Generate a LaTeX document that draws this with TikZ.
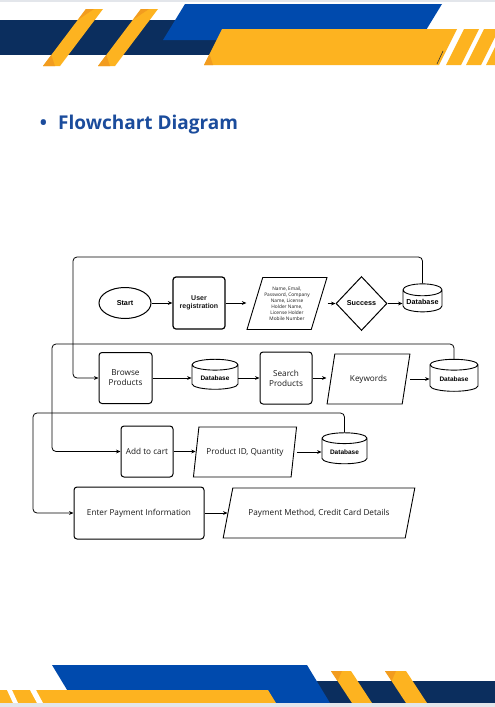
\documentclass[tikz,border=0pt]{standalone}
\usepackage{fontspec}
\setmainfont{Open Sans}
\newfontfamily\libsans{Liberation Sans}
\usetikzlibrary{shapes.geometric,arrows.meta,calc}
\definecolor{navy}{HTML}{0B2E5E}
\definecolor{royal}{HTML}{004AAD}
\definecolor{gold}{HTML}{FDB320}
\definecolor{golddark}{HTML}{F29C1F}
\definecolor{titleblue}{HTML}{1B4C9C}
\definecolor{stripgray}{HTML}{E3E6EB}
\begin{document}
\begin{tikzpicture}[x=1pt,y=-1pt,
  conn/.style={line width=0.8pt, -{Stealth[length=4.5pt,width=3.8pt]}},
  loopline/.style={line width=0.8pt, rounded corners=4pt, -{Stealth[length=4.5pt,width=3.8pt]}},
  rbox/.style={draw, line width=1pt, rounded corners=3pt, align=center, inner sep=1pt, text=black!90, font=\fontsize{8.2}{10}\selectfont},
  bbox/.style={rbox, line width=1.2pt, font=\libsans\bfseries\fontsize{7}{8}\selectfont},
  db/.style={cylinder, shape border rotate=90, draw, line width=0.9pt, aspect=0.35, inner sep=1pt, font=\libsans\bfseries\fontsize{6.5}{7}\selectfont},
  para/.style={trapezium, draw, line width=0.9pt, trapezium stretches=true, align=center, inner sep=1pt, text=black!90, font=\fontsize{8.2}{10}\selectfont},
  bold7/.style={font=\libsans\bfseries\fontsize{7.2}{8}\selectfont},
]
\useasboundingbox (0,0) rectangle (495,707);
\fill[white] (0,0) rectangle (495,707);

% ---------- header ----------
\fill[stripgray] (0,0) rectangle (495,1.5);
\fill[navy] (0,20) rectangle (225,55);
\fill[gold] (86,9) -- (103,9) -- (60,66) -- (43,66) -- cycle;
\fill[golddark] (86,9) -- (94,9) -- (77.7,20) -- cycle;
\fill[golddark] (51.3,55) -- (43,66) -- (55,66) -- cycle;
\fill[gold] (141,9) -- (158,9) -- (115,66) -- (98,66) -- cycle;
\fill[golddark] (141,9) -- (149,9) -- (132.7,20) -- cycle;
\fill[golddark] (106.3,55) -- (98,66) -- (110,66) -- cycle;
\fill[royal] (185,4) -- (442,4) -- (420,40) -- (163,40) -- cycle;
\fill[gold] (222,29) -- (457,29) -- (439,65) -- (204,65) -- cycle;
\fill[golddark] (209.5,54) -- (204,65) -- (213,65) -- cycle;
\fill[gold] (464,29) -- (479,29) -- (461,65) -- (446,65) -- cycle;
\fill[gold] (484,29) -- (499,29) -- (481,65) -- (466,65) -- cycle;
\fill[gold] (504,29) -- (519,29) -- (501,65) -- (486,65) -- cycle;
\draw[black!80, line width=0.6pt] (443,51) -- (437,64);

% ---------- footer ----------
\fill[navy] (300,681) rectangle (495,703);
\fill[royal] (52,665) -- (307,665) -- (330,703) -- (75,703) -- cycle;
\fill[gold] (0,690) -- (268,690) -- (276,703) -- (0,703) -- cycle;
\fill[white] (7,690) -- (12,690) -- (18,703) -- (13,703) -- cycle;
\fill[white] (30,690) -- (36,690) -- (43,703) -- (37,703) -- cycle;
\fill[gold] (331,671) -- (351,671) -- (372,703) -- (352,703) -- cycle;
\fill[golddark] (331,671) -- (342,671) -- (337.6,681) -- cycle;
\fill[gold] (385,671) -- (406,671) -- (427,703) -- (406,703) -- cycle;
\fill[golddark] (385,671) -- (396,671) -- (391.6,681) -- cycle;
\fill[stripgray] (0,703) rectangle (495,707);

% ---------- title ----------
\node[text=titleblue, font=\bfseries\fontsize{19}{22}\selectfont, anchor=base] (bullet) at (43.5,129) {•};
\node[text=titleblue, font=\bfseries\fontsize{19}{22}\selectfont, anchor=base west, inner sep=0pt] (title) at (58,129) {Flowchart Diagram};

% ---------- row 1 ----------
\node[ellipse, draw, line width=1pt, minimum width=52pt, minimum height=31pt, inner sep=0pt, bold7] (start) at (125,303) {Start};
\node[bbox, minimum width=52pt, minimum height=52pt] (ureg) at (199,303) {User\\registration};
\node[para, trapezium left angle=67, trapezium right angle=113, minimum width=80pt, minimum height=52pt, font=\fontsize{4.8}{6.1}\selectfont] (p1) at (287,303.5) {Name, Email,\\Password, Company\\Name, License\\Holder Name,\\License Holder\\Mobile Number};
\node[diamond, draw, line width=1pt, minimum width=51pt, minimum height=54pt, inner sep=0pt, bold7] (succ) at (361.5,303.5) {Success};
\node[db, minimum width=39pt, minimum height=28pt, font=\libsans\bfseries\fontsize{7.2}{8}\selectfont] (db1) at (422.5,302) {Database};

% ---------- row 2 ----------
\node[rbox, minimum width=53pt, minimum height=51pt] (browse) at (125.5,378) {Browse\\Products};
\node[db, minimum width=46pt, minimum height=30pt] (db2) at (215,378) {Database};
\node[rbox, minimum width=52pt, minimum height=52pt] (search) at (286,378) {Search\\Products};
\node[para, trapezium left angle=66.3, trapezium right angle=113.7, minimum width=83pt, minimum height=50pt] (kw) at (368.5,379) {Keywords};
\node[db, minimum width=48pt, minimum height=32pt] (db3) at (454,379) {Database};

% ---------- row 3 ----------
\node[rbox, minimum width=52pt, minimum height=51pt] (cart) at (147,451.5) {Add to cart};
\node[para, trapezium left angle=65.3, trapezium right angle=114.7, minimum width=104pt, minimum height=50pt] (p3) at (245,452) {Product ID, Quantity};
\node[db, minimum width=45pt, minimum height=31pt] (db4) at (344.5,452) {Database};

% ---------- row 4 ----------
\node[rbox, minimum width=130pt, minimum height=52pt] (pay) at (139,513) {Enter Payment Information};
\node[para, trapezium left angle=52, trapezium right angle=128, minimum width=192pt, minimum height=50pt] (p4) at (319,513) {Payment Method, Credit Card Details};

% ---------- connectors ----------
\coordinate (L1) at (73,257);
\coordinate (L2) at (52,344);
\coordinate (L3) at (33,413);

\draw[conn] (start.east) -- (ureg.west);
\draw[conn] (ureg.east) -- (ureg.east -| p1.bottom left corner);
\draw[conn] (p1.top right corner |- succ.west) -- (succ.west);
\draw[conn] (succ.east) -- (succ.east -| db1.west);
\draw[loopline] (db1.top) |- (L1) |- (browse.west);

\draw[conn] (browse.east) -- (browse.east -| db2.west);
\draw[conn] (db2.east |- search.west) -- (search.west);
\draw[conn] (search.east) -- ($(search.east -| kw.left side)+(-4,0)$);
\draw[conn] (kw.top right corner |- db3.west) -- (db3.west);
\draw[loopline] (db3.top) |- (L2) |- (cart.west);

\draw[conn] (cart.east) -- (cart.east -| p3.left side);
\draw[conn] (p3.top right corner |- db4.west) -- (db4.west);
\draw[loopline] (db4.top) |- (L3) |- (pay.west);

\draw[conn] (pay.east) -- (pay.east -| p4.left side);
\end{tikzpicture}
\end{document}
